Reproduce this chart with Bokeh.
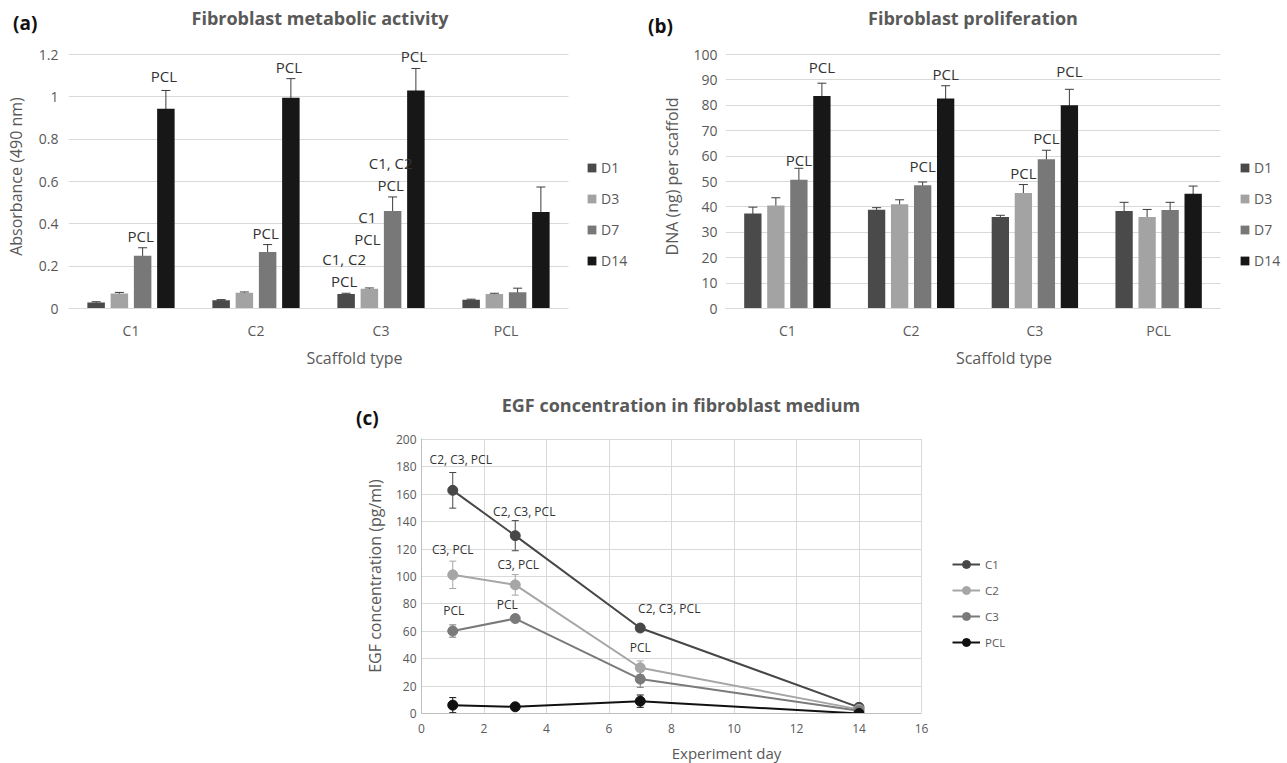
from bokeh.plotting import figure
from bokeh.models import (ColumnDataSource, Whisker, TeeHead, LabelSet, Legend,
                          LegendItem, FixedTicker, Range1d, Spacer, Div)
from bokeh.layouts import column, row
from bokeh.embed import file_html
from bokeh.resources import INLINE
from bokeh.core.properties import value

FONT = "Open Sans"
TXT = "#595959"
GRID = "#d9d9d9"

# ---------------- shared categories ----------------
scaffolds = ["C1", "C2", "C3", "PCL"]
days = ["D1", "D3", "D7", "D14"]
bar_colors = ["#4a4a4a", "#a3a3a3", "#787878", "#171717"]

# ---------------- (a) metabolic activity ----------------
abs_D1 = [0.028, 0.039, 0.068, 0.041]
abs_D3 = [0.071, 0.074, 0.093, 0.068]
abs_D7 = [0.249, 0.267, 0.461, 0.077]
abs_D14 = [0.944, 0.996, 1.030, 0.456]
abs_err_D1 = [0.004, 0.003, 0.004, 0.003]
abs_err_D3 = [0.005, 0.004, 0.004, 0.004]
abs_err_D7 = [0.038, 0.035, 0.066, 0.019]
abs_err_D14 = [0.086, 0.090, 0.104, 0.118]
abs_ticks = [0, 0.2, 0.4, 0.6, 0.8, 1, 1.2]
abs_tick_labels = ["0", "0.2", "0.4", "0.6", "0.8", "1", "1.2"]
abs_note_scaffold = ["C1", "C1", "C2", "C2", "C3", "C3", "C3", "C3"]
abs_note_day = ["D7", "D14", "D7", "D14", "D1", "D3", "D7", "D14"]
abs_note_text = ["PCL", "PCL", "PCL", "PCL", "C1, C2\nPCL", "C1\nPCL", "C1, C2\nPCL", "PCL"]

# ---------------- (b) proliferation ----------------
dna_D1 = [37.4, 38.9, 36.0, 38.4]
dna_D3 = [40.6, 41.0, 45.5, 36.0]
dna_D7 = [50.7, 48.5, 58.8, 38.8]
dna_D14 = [83.7, 82.7, 80.0, 45.2]
dna_err_D1 = [2.5, 0.8, 0.7, 3.4]
dna_err_D3 = [3.0, 1.8, 3.3, 3.0]
dna_err_D7 = [4.5, 1.3, 3.5, 3.0]
dna_err_D14 = [5.0, 5.0, 6.3, 3.0]
dna_ticks = [0, 10, 20, 30, 40, 50, 60, 70, 80, 90, 100]
dna_tick_labels = ["0", "10", "20", "30", "40", "50", "60", "70", "80", "90", "100"]
dna_note_scaffold = ["C1", "C1", "C2", "C2", "C3", "C3", "C3"]
dna_note_day = ["D7", "D14", "D7", "D14", "D3", "D7", "D14"]
dna_note_text = ["PCL"] * 7

# ---------------- (c) EGF concentration ----------------
egf_days = [1, 3, 7, 14]
egf_series = ["C1", "C2", "C3", "PCL"]
egf_C1 = [162.9, 129.8, 62.4, 4.5]
egf_C2 = [101.2, 93.9, 33.4, 3.0]
egf_C3 = [60.2, 69.3, 25.1, 2.0]
egf_PCL = [6.1, 4.9, 9.0, 0.0]
egf_err_C1 = [13.0, 11.0, 2.0, 2.5]
egf_err_C2 = [10.0, 7.5, 5.0, 2.0]
egf_err_C3 = [4.5, 2.5, 6.0, 1.5]
egf_err_PCL = [5.5, 1.0, 4.5, 0.5]
egf_colors = ["#474747", "#a6a6a6", "#7a7a7a", "#111111"]
egf_x_ticks = [0, 2, 4, 6, 8, 10, 12, 14, 16]
egf_y_ticks = [0, 20, 40, 60, 80, 100, 120, 140, 160, 180, 200]
egf_note_series = ["C1", "C1", "C1", "C2", "C2", "C2", "C3", "C3"]
egf_note_day = [1, 3, 7, 1, 3, 7, 1, 3]
egf_note_text = ["C2, C3, PCL", "C2, C3, PCL", "C2, C3, PCL", "C3, PCL", "C3, PCL", "PCL", "PCL", "PCL"]

# ---------------- titles ----------------
title_a = "Fibroblast metabolic activity"
title_b = "Fibroblast proliferation"
title_c = "EGF concentration in fibroblast medium"

# style-only placement tweaks for annotation labels (pixels)
egf_note_dx = [8, 9, 29, 0, 3, 0, 1, -8]
egf_note_dy = [5, 1, 8, 3, 2, 5, 6, 2]

BAR_PITCH = 0.186
BAR_W = 0.14
BAR_FRAME_H = 264          # frame top at y=44, gridline of top tick at y=54
BAR_TICK_SPAN = 254        # pixels between first and last tick


def style_axes(p, tick_size, label_size):
    for ax in (p.xaxis, p.yaxis):
        ax.major_tick_line_color = None
        ax.minor_tick_line_color = None
        ax.major_tick_out = 0
        ax.major_tick_in = 0
        ax.minor_tick_out = 0
        ax.minor_tick_in = 0
        ax.major_label_text_font = FONT
        ax.major_label_text_font_size = tick_size
        ax.major_label_text_color = TXT
        ax.axis_label_text_font = FONT
        ax.axis_label_text_font_style = "normal"
        ax.axis_label_text_color = TXT
        ax.axis_label_text_font_size = label_size


def bar_panel(vals, errs, ticks, tick_labels, ylabel, n_sc, n_day, n_txt,
              plot_w, frame_w, min_left, legend_x, ylab_standoff, ytick_standoff,
              lifts, note_dx):
    n = len(scaffolds)
    y_top = ticks[0] + (ticks[-1] - ticks[0]) * BAR_FRAME_H / BAR_TICK_SPAN
    x_end = n * frame_w / plot_w          # frame also hosts the legend on its right
    p = figure(frame_width=frame_w, frame_height=BAR_FRAME_H,
               x_range=Range1d(0, x_end), y_range=Range1d(ticks[0], y_top),
               output_backend="svg", toolbar_location=None,
               min_border_left=min_left, min_border_right=0,
               min_border_top=8, min_border_bottom=62,
               background_fill_color="white", border_fill_color="white",
               outline_line_color=None)
    items = []
    tops = {}
    for i, day in enumerate(days):
        off = (i - (len(days) - 1) / 2) * BAR_PITCH
        xs = [k + 0.5 + off for k in range(n)]
        up = [v + e for v, e in zip(vals[i], errs[i])]
        lo = [v - e for v, e in zip(vals[i], errs[i])]
        src = ColumnDataSource(dict(x=xs, top=vals[i], upper=up, lower=lo))
        r = p.vbar(x="x", top="top", bottom=0, width=BAR_W, source=src,
                   fill_color=bar_colors[i], line_color=None)
        p.add_layout(Whisker(source=src, base="x", upper="upper", lower="lower",
                             line_color="#3c3c3c", line_width=1,
                             upper_head=TeeHead(size=9, line_color="#3c3c3c", line_width=1),
                             lower_head=TeeHead(size=9, line_color="#3c3c3c", line_width=1)))
        items.append(LegendItem(label=day, renderers=[r]))
        for k, sc in enumerate(scaffolds):
            tops[(sc, day)] = (xs[k], up[k])

    # significance annotations
    lx, ly, lt, lyo = [], [], [], []
    for sc, dy, txt in zip(n_sc, n_day, n_txt):
        x, y = tops[(sc, dy)]
        lines = txt.split("\n")[::-1]
        for j, line in enumerate(lines):
            lx.append(x)
            ly.append(y)
            lt.append(line)
            lyo.append(12 + 22 * j + lifts.get((sc, dy), 0))
    lsrc = ColumnDataSource(dict(x=lx, y=ly, text=lt, yo=lyo))
    p.add_layout(LabelSet(source=lsrc, x="x", y="y", text="text", y_offset="yo",
                          x_offset=note_dx, text_font=value(FONT),
                          text_font_size=value("15px"), text_color="#333333",
                          text_align="center", text_baseline="middle"))

    # axes & grid (limited to the category span)
    p.xgrid.grid_line_color = None
    p.ygrid.grid_line_color = GRID
    p.ygrid.ticker = FixedTicker(ticks=ticks)
    p.ygrid.cross_bounds = (0, n)
    p.yaxis.ticker = FixedTicker(ticks=ticks)
    p.yaxis.major_label_overrides = {t: l for t, l in zip(ticks, tick_labels)}
    p.xaxis.ticker = FixedTicker(ticks=[k + 0.5 for k in range(n)])
    p.xaxis.major_label_overrides = {k + 0.5: s for k, s in enumerate(scaffolds)}
    p.xaxis.bounds = (0, n)
    style_axes(p, "14px", "16px")
    p.yaxis.axis_line_color = None
    p.xaxis.axis_line_color = GRID
    p.yaxis.major_label_standoff = ytick_standoff
    p.yaxis.axis_label = ylabel
    p.yaxis.axis_label_standoff = ylab_standoff
    p.xaxis.axis_label = "Scaffold type"
    p.xaxis.major_label_standoff = 12
    p.xaxis.axis_label_standoff = 4

    legend = Legend(items=items, location=(legend_x, 38), orientation="vertical",
                    border_line_color=None, background_fill_alpha=0, padding=0, margin=0,
                    glyph_width=11, glyph_height=11, label_height=19, spacing=12,
                    label_standoff=4, label_text_font=FONT, label_text_font_size="14px",
                    label_text_color=TXT, label_text_baseline="middle")
    p.add_layout(legend)
    return p


# (a): plot x 68..568, legend area to 640
fa = bar_panel([abs_D1, abs_D3, abs_D7, abs_D14],
               [abs_err_D1, abs_err_D3, abs_err_D7, abs_err_D14],
               abs_ticks, abs_tick_labels, "Absorbance (490 nm)",
               abs_note_scaffold, abs_note_day, abs_note_text,
               plot_w=500, frame_w=572, min_left=68, legend_x=518,
               ylab_standoff=9, ytick_standoff=10,
               lifts={("C3", "D3"): 37, ("C1", "D14"): 2}, note_dx=-2)

# (b): plot x 725..1220, legend area to 1282
fb = bar_panel([dna_D1, dna_D3, dna_D7, dna_D14],
               [dna_err_D1, dna_err_D3, dna_err_D7, dna_err_D14],
               dna_ticks, dna_tick_labels, "DNA (ng) per scaffold",
               dna_note_scaffold, dna_note_day, dna_note_text,
               plot_w=495, frame_w=557, min_left=85, legend_x=514,
               ylab_standoff=7, ytick_standoff=8,
               lifts={("C1", "D7"): -4, ("C1", "D14"): 4, ("C2", "D7"): 4,
                      ("C3", "D14"): 6}, note_dx=0)

# ---------------- panel (c): plot x 421..921, y 438..712; legend area to 1031 ----------------
C_PLOT_W, C_FRAME_W, C_FRAME_H = 500, 610, 275
c_x_end = egf_x_ticks[-1] * C_FRAME_W / C_PLOT_W
c_y_end = egf_y_ticks[-1] * C_FRAME_H / (C_FRAME_H - 1)
pc = figure(frame_width=C_FRAME_W, frame_height=C_FRAME_H,
            x_range=Range1d(egf_x_ticks[0], c_x_end),
            y_range=Range1d(egf_y_ticks[0], c_y_end),
            output_backend="svg", toolbar_location=None,
            min_border_left=71, min_border_right=0, min_border_top=7, min_border_bottom=50,
            background_fill_color="white", border_fill_color="white",
            outline_line_color=None)

vals_c = [egf_C1, egf_C2, egf_C3, egf_PCL]
errs_c = [egf_err_C1, egf_err_C2, egf_err_C3, egf_err_PCL]
items_c = []
tops_c = {}
for name, vals, errs, col in zip(egf_series, vals_c, errs_c, egf_colors):
    up = [v + e for v, e in zip(vals, errs)]
    lo = [v - e for v, e in zip(vals, errs)]
    src = ColumnDataSource(dict(x=egf_days, y=vals, upper=up, lower=lo))
    lr = pc.line(x="x", y="y", source=src, line_color=col, line_width=2)
    pc.add_layout(Whisker(source=src, base="x", upper="upper", lower="lower",
                          line_color=col, line_width=1,
                          upper_head=TeeHead(size=7, line_color=col, line_width=1),
                          lower_head=TeeHead(size=7, line_color=col, line_width=1)))
    sr = pc.scatter(x="x", y="y", source=src, size=10, marker="circle",
                    fill_color=col, line_color=col)
    items_c.append(LegendItem(label=name, renderers=[lr, sr]))
    for d, u in zip(egf_days, up):
        tops_c[(name, d)] = u

nx, ny = [], []
for s, d in zip(egf_note_series, egf_note_day):
    nx.append(d)
    ny.append(tops_c[(s, d)])
nsrc = ColumnDataSource(dict(x=nx, y=ny, text=egf_note_text, xo=egf_note_dx, yo=egf_note_dy))
pc.add_layout(LabelSet(source=nsrc, x="x", y="y", text="text", x_offset="xo", y_offset="yo",
                       text_font=value(FONT), text_font_size=value("12px"),
                       text_color="#333333", text_align="center", text_baseline="bottom"))

pc.xgrid.grid_line_color = GRID
pc.ygrid.grid_line_color = GRID
pc.xgrid.ticker = FixedTicker(ticks=egf_x_ticks)
pc.ygrid.ticker = FixedTicker(ticks=egf_y_ticks)
pc.ygrid.cross_bounds = (egf_x_ticks[0], egf_x_ticks[-1])
pc.xaxis.ticker = FixedTicker(ticks=egf_x_ticks)
pc.yaxis.ticker = FixedTicker(ticks=egf_y_ticks)
pc.xaxis.bounds = (egf_x_ticks[0], egf_x_ticks[-1])
style_axes(pc, "12px", "16px")
pc.xaxis.axis_label_text_font_size = "15px"
pc.xaxis.axis_line_color = "#bfbfbf"
pc.yaxis.axis_line_color = "#bfbfbf"
pc.yaxis.axis_label = "EGF concentration (pg/ml)"
pc.yaxis.major_label_standoff = 5
pc.yaxis.axis_label_standoff = 7
pc.xaxis.axis_label = "Experiment day"
pc.xaxis.major_label_standoff = 10
pc.xaxis.axis_label_standoff = 7

legend_c = Legend(items=items_c, location=(531, 61), orientation="vertical",
                  border_line_color=None, background_fill_alpha=0, padding=0, margin=0,
                  glyph_width=28, glyph_height=20, label_height=16, spacing=6,
                  label_standoff=5, label_text_font=FONT, label_text_font_size="11.5px",
                  label_text_color=TXT, label_text_baseline="middle")
pc.add_layout(legend_c)


# ---------------- header lines (panel letters and titles) ----------------
def span(text, left, top, size, color, width=None):
    w = f"width:{width}px;text-align:center;" if width else ""
    return (f'<span style="position:absolute;left:{left}px;top:{top}px;{w}'
            f"font-family:'Open Sans';font-size:{size}px;font-weight:bold;"
            f'color:{color};line-height:22px;white-space:nowrap;">{text}</span>')


def header(spans, height):
    html = (f'<div style="position:relative;width:1287px;height:{height}px;margin:0;padding:0;">'
            + "".join(spans) + "</div>")
    return Div(text=html, width=1287, height=height, margin=0)


head_ab = header([span("(a)", 13, 12, 19, "#111111"),
                  span(title_a, 70, 7, 18, TXT, width=500),
                  span("(b)", 648, 15, 19, "#111111"),
                  span(title_b, 723, 7, 18, TXT, width=500)], 36)
head_c = header([span("(c)", 356, 36, 19, "#111111"),
                 span(title_c, 431, 23, 18, TXT, width=500)], 60)

layout = column(head_ab, row(fa, fb), head_c,
                row(Spacer(width=350, height=332, margin=0), pc))

with open("out.html", "w") as f:
    f.write(file_html(layout, INLINE, "Fibroblast charts"))
